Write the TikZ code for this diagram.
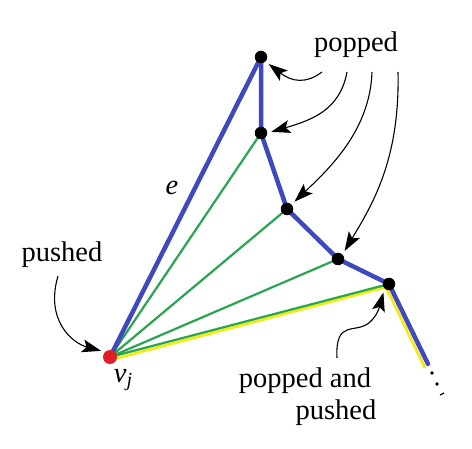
\documentclass[tikz,border=0pt]{standalone}
\usepackage{fontspec}
\setmainfont{Liberation Serif}
\usetikzlibrary{arrows.meta}
\definecolor{eblue}{RGB}{64,72,190}
\definecolor{egreen}{RGB}{40,165,80}
\definecolor{eyellow}{RGB}{245,235,20}
\definecolor{vred}{RGB}{225,30,40}
\tikzset{
  x=1pt, y=-1pt,
  vtx/.style={circle, fill=black, inner sep=0pt, minimum size=12.5pt},
  rvtx/.style={circle, fill=vred, inner sep=0pt, minimum size=14pt},
  bluee/.style={draw=eblue, line width=4.5pt, line cap=round, line join=round},
  greene/.style={draw=egreen, line width=2.2pt},
  yele/.style={draw=eyellow, line width=2.8pt, line join=round},
  ptr/.style={draw=black, line width=1.1pt, shorten >=4pt, -{Stealth[length=19pt,width=13pt,inset=4pt]}},
  lbl/.style={font=\fontsize{28.5}{32}\selectfont, inner sep=0pt},
}
\begin{document}
\begin{tikzpicture}
\useasboundingbox (0,0) rectangle (472,449);
% vertices positions
\coordinate (vj) at (110,357);
\coordinate (a) at (261,57);
\coordinate (b) at (261,133);
\coordinate (c) at (287,209);
\coordinate (d) at (338,259);
\coordinate (f) at (389,284);
\coordinate (fy) at (386,287);
\coordinate (gy) at (425,368);
\coordinate (gb) at (428,364);
% yellow
\draw[yele] ([yshift=-3pt]vj) -- (fy) -- (gy);
% green
\draw[greene] (vj) -- (b);
\draw[greene] (vj) -- (c);
\draw[greene] (vj) -- (d);
\draw[greene] (vj) -- (f);
% blue
\draw[bluee] (vj) -- (a);
\draw[bluee] (a) -- (b) -- (c) -- (d) -- (f) -- (gb);
% nodes
\node[vtx] (na) at (a) {};
\node[vtx] (nb) at (b) {};
\node[vtx] (nc) at (c) {};
\node[vtx] (nd) at (d) {};
\node[vtx] (nf) at (f) {};
\node[rvtx] (nvj) at (vj) {};
% continuation dots
\fill (432,373) circle (1.8pt);
\fill (437,384) circle (1.8pt);
\draw[line width=1.3pt] (440,395) -- (444,393);
% labels
\node[lbl] (tpop) at (356,45) {popped};
\node[lbl] (tpush) at (62,255) {pushed};
\node[lbl] (tpp1) at (305,381) {popped and};
\node[lbl] (tpp2) at (336,413) {pushed};
\node[lbl] (tvj) at (123,380) {\textit{v}\raisebox{-0.3ex}{\fontsize{20}{22}\selectfont\textit{j}}};
\node[lbl] (te) at (172,188) {\textit{e}};
% arrows
\draw[ptr] (322,72) .. controls (306,84) and (292,82) .. (na.south east);
\draw[ptr] (347,72) .. controls (340,110) and (312,120) .. (nb.east);
\draw[ptr] (372,72) .. controls (370,130) and (330,168) .. (nc.north east);
\draw[ptr] (398,72) .. controls (400,160) and (372,205) .. (nd.north east);
\draw[ptr] (58,276) .. controls (45,320) and (72,343) .. (nvj.north west);
\draw[ptr] (337,358) .. controls (335,318) and (356,335) .. (370,322) .. controls (378,315) and (380,305) .. (nf.south west);
\end{tikzpicture}
\end{document}
